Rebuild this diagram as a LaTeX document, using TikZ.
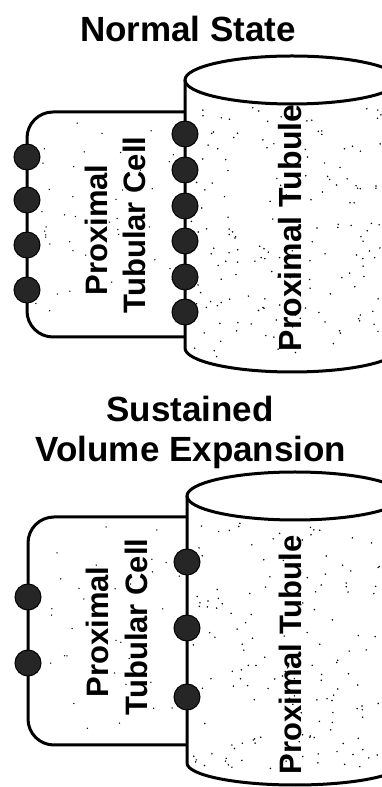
\documentclass[tikz,border=0pt]{standalone}
\usepackage{fontspec}
\setmainfont{Liberation Sans}
\begin{document}
\begin{tikzpicture}[x=1pt,y=1pt,line width=3pt,
  channel/.style={circle,draw=black,line width=1pt,fill=black!85,minimum size=26pt,inner sep=0pt},
  heading/.style={anchor=base,font=\fontsize{35}{35}\selectfont\bfseries},
  label/.style={rotate=90,inner sep=0pt,font=\fontsize{31}{31}\selectfont\bfseries}]
\useasboundingbox (0,0) rectangle (381,787);
\pgfmathsetseed{42}

% normal state
\node[heading] (t1) at (188,745) {Normal State};
\draw[rounded corners=26pt] (185,675) -- (27,675) -- (27,450) -- (185,450);
\draw[fill=white] (185,707) -- (185,439) arc[start angle=180,end angle=360,x radius=107,y radius=24] -- (399,707);
\draw (292,707) ellipse[x radius=107,y radius=24];
\foreach \k in {1,...,170}{
  \pgfmathsetmacro\sx{190+191*rnd}\pgfmathsetmacro\sy{430+250*rnd}
  \fill (\sx,\sy) circle (0.85pt);}
\foreach \k in {1,...,45}{
  \pgfmathsetmacro\sx{35+145*rnd}\pgfmathsetmacro\sy{458+210*rnd}
  \fill (\sx,\sy) circle (0.75pt);}
\foreach \y [count=\i] in {630,587,542,497}
  \node[channel] (a\i) at (27,\y) {};
\foreach \y [count=\i] in {653,617,581,546,510,475}
  \node[channel] (b\i) at (185,\y) {};
\node[label] (p1) at (96,557) {Proximal};
\node[label] (c1) at (134,562) {Tubular Cell};
\node[label,font=\fontsize{32}{32}\selectfont\bfseries] (u1) at (290,559) {Proximal Tubule};

% sustained volume expansion
\node[heading] (t2) at (190,365) {Sustained};
\node[heading] (t3) at (191,325) {Volume Expansion};
\draw[rounded corners=26pt] (187,270) -- (28,270) -- (28,42) -- (187,42);
\draw[fill=white] (187,291) -- (187,24) arc[start angle=180,end angle=360,x radius=108,y radius=22] -- (403,291);
\draw (295,291) ellipse[x radius=108,y radius=24];
\foreach \k in {1,...,150}{
  \pgfmathsetmacro\sx{192+189*rnd}\pgfmathsetmacro\sy{15+250*rnd}
  \fill (\sx,\sy) circle (0.85pt);}
\foreach \k in {1,...,40}{
  \pgfmathsetmacro\sx{36+145*rnd}\pgfmathsetmacro\sy{50+212*rnd}
  \fill (\sx,\sy) circle (0.75pt);}
\foreach \y [count=\i] in {190,124}
  \node[channel] (d\i) at (28,\y) {};
\foreach \y [count=\i] in {225,159,90}
  \node[channel] (e\i) at (187,\y) {};
\node[label] (p2) at (97,155) {Proximal};
\node[label] (c2) at (136,160) {Tubular Cell};
\node[label] (u2) at (290,132) {Proximal Tubule};
\end{tikzpicture}
\end{document}
